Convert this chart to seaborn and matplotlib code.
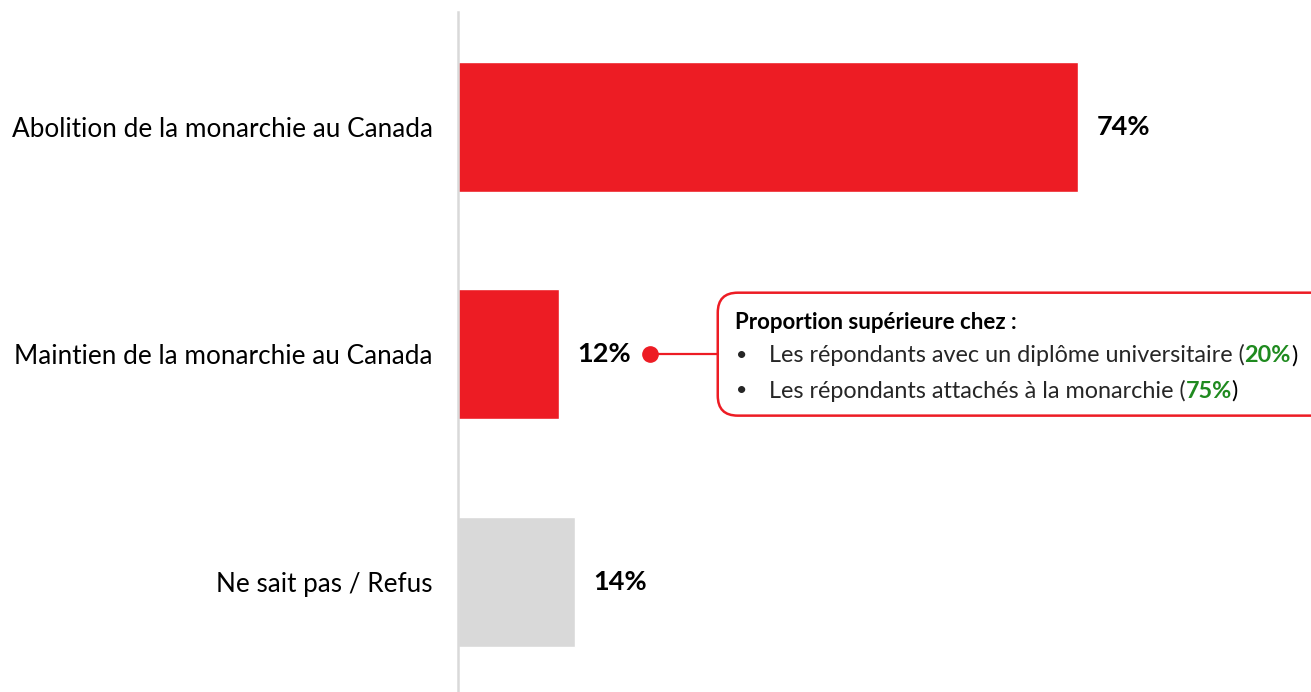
import pandas as pd
import matplotlib.pyplot as plt
import seaborn as sns
from matplotlib.patches import FancyBboxPatch

# données du graphique
categories = ["Abolition de la monarchie au Canada",
              "Maintien de la monarchie au Canada",
              "Ne sait pas / Refus"]
values = [74, 12, 14]
bar_colors = ["#ED1C24", "#ED1C24", "#D9D9D9"]

# encadré (catégorie visée : Maintien)
callout_title = "Proportion supérieure chez :"
callout_items = ["Les répondants avec un diplôme universitaire (",
                 "Les répondants attachés à la monarchie ("]
callout_values = ["20%", "75%"]

RED = "#ED1C24"
GREEN = "#1F8A1F"

sns.set_style("white")
plt.rcParams["font.family"] = ["Lato", "DejaVu Sans"]

df = pd.DataFrame({"label": categories, "pct": values})

fig = plt.figure(figsize=(13.11, 6.92), dpi=100)
ax = fig.add_axes([458 / 1311, 0, 853 / 1311, 680 / 692])

sns.barplot(data=df, x="pct", y="label", hue="label", palette=bar_colors,
            saturation=1, width=0.571, legend=False, ax=ax)

ax.set_xlim(0, 101.8)
ax.set_ylim(2.484, -0.503)
ax.set_xlabel("")
ax.set_ylabel("")
ax.set_xticks([])
for s in ["top", "right", "bottom"]:
    ax.spines[s].set_visible(False)
ax.spines["left"].set_color("#D9D9D9")
ax.spines["left"].set_linewidth(1.8)
ax.tick_params(axis="y", length=0, pad=18, labelsize=18.8, labelcolor="black")

# étiquettes de valeurs
for i, v in enumerate(values):
    ax.text(v + 2.2, i, f"{v}%", va="center", ha="left",
            fontsize=19.5, fontweight="bold", color="black")

# encadré relié à la barre "Maintien"
row = 1
v = values[row]
dot_x = v + 10.9
box_x = v + 19.0
ax.plot([dot_x, box_x], [row, row], color=RED, lw=1.6, zorder=3, clip_on=False)
ax.plot(dot_x, row, "o", color=RED, ms=11, zorder=4, clip_on=False)

px_x = 853 / 101.8
px_y = 680 / 2.987
box = FancyBboxPatch((box_x, row - 0.27), 80, 0.54,
                     boxstyle=f"round,pad=0,rounding_size={20 / px_x}",
                     mutation_aspect=px_x / px_y,
                     facecolor="white", edgecolor=RED, lw=1.8, zorder=2)
ax.add_patch(box)

ax.text(box_x + 2.0, row - 0.14, callout_title, va="center", ha="left",
        fontsize=16, fontweight="bold", color="black")
for k, (item, val) in enumerate(zip(callout_items, callout_values)):
    y = row + 0.005 + k * 0.155
    ax.text(box_x + 2.2, y, "•", va="center", ha="left", fontsize=14)
    t1 = ax.text(box_x + 6.1, y, item, va="center", ha="left", fontsize=16.8)
    t2 = ax.annotate(val, xy=(1, 0), xycoords=t1, va="bottom", ha="left",
                     fontsize=16.8, fontweight="bold", color=GREEN)
    ax.annotate(")", xy=(1, 0), xycoords=t2, va="bottom", ha="left",
                fontsize=16.8, color="black")

fig.savefig("out.png", dpi=100)
